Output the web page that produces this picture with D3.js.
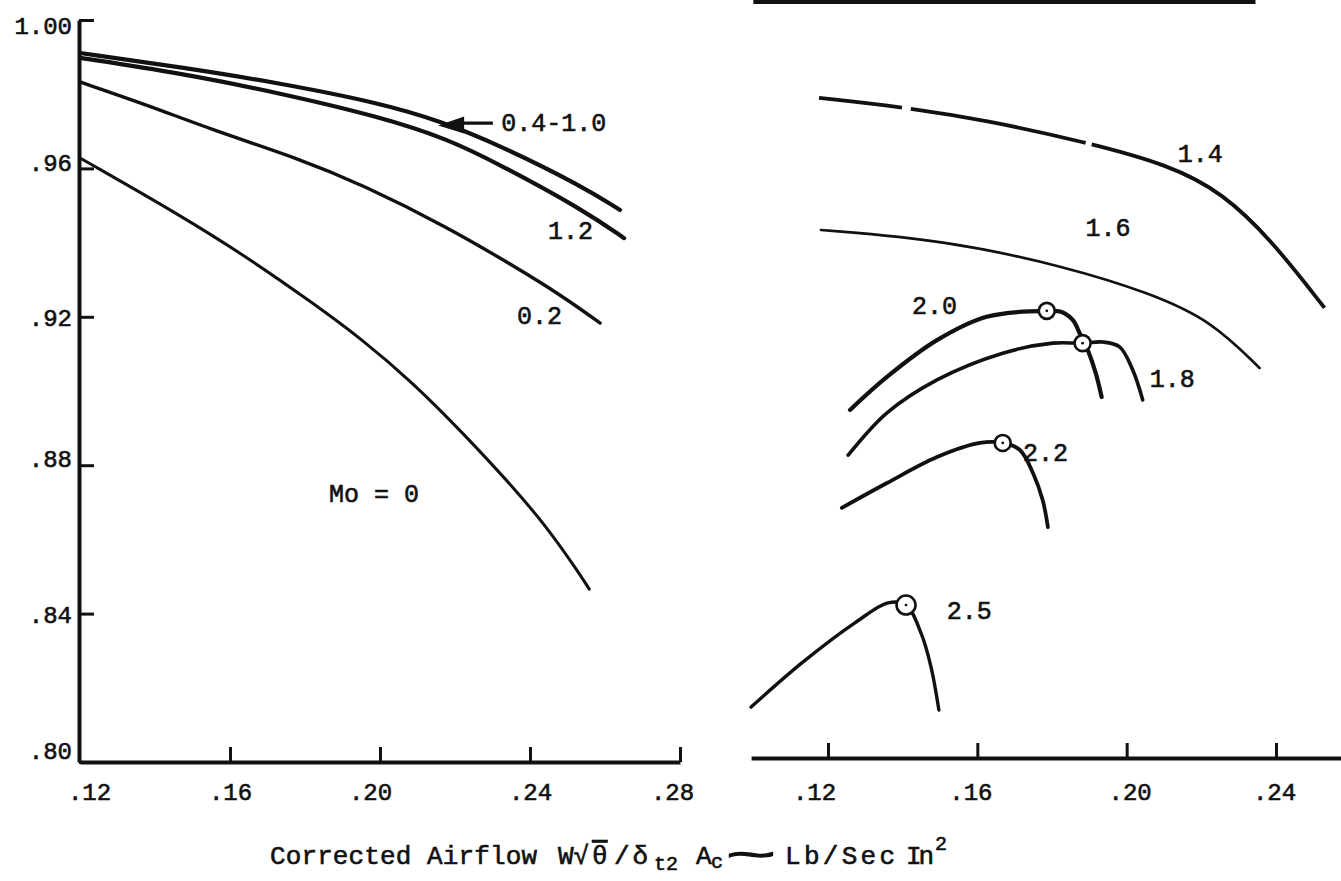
<!DOCTYPE html>
<html><head><meta charset="utf-8">
<script src="https://cdn.jsdelivr.net/npm/d3@7"></script>
<style>
html,body{margin:0;padding:0;background:#fff;}
svg{display:block;background:#fff;}
text{font-family:"Liberation Mono","DejaVu Sans Mono",monospace;fill:#111;stroke:#111;stroke-width:0.6px;}
</style></head><body>
<svg id="chart" width="1341" height="881"></svg>
<script>
// ---------- data ----------
const yTicks = [1.00, 0.96, 0.92, 0.88, 0.84, 0.80];
const yTickLabels = ["1.00", ".96", ".92", ".88", ".84", ".80"];
const xTicksLeft = [0.12, 0.16, 0.20, 0.24, 0.28];
const xTickLabelsLeft = [".12", ".16", ".20", ".24", ".28"];
const xTicksRight = [0.12, 0.16, 0.20, 0.24];
const xTickLabelsRight = [".12", ".16", ".20", ".24"];

// left panel curves: [corrected airflow, recovery]
const mach04to10 = [[0.12,0.9911],[0.1467,0.9873],[0.1733,0.9830],[0.2000,0.9776],[0.2160,0.9728],[0.2320,0.9662],[0.2539,0.9552],[0.2640,0.9488]];
const mach12 = [[0.12,0.9898],[0.1467,0.9857],[0.1733,0.9803],[0.2000,0.9739],[0.2179,0.9680],[0.2320,0.9610],[0.2539,0.9490],[0.2651,0.9412]];
const mach02 = [[0.12,0.9833],[0.1379,0.9771],[0.1555,0.9703],[0.1779,0.9628],[0.1955,0.9555],[0.2179,0.9442],[0.2355,0.9338],[0.2488,0.9255],[0.2587,0.9183]];
const mach0 = [[0.12,0.9628],[0.1467,0.9474],[0.1645,0.9361],[0.1821,0.9237],[0.1955,0.9137],[0.2088,0.9022],[0.2221,0.8887],[0.2355,0.8741],[0.2445,0.8633],[0.2525,0.8518],[0.2558,0.8466]];

// right panel curves
const mach14 = [[0.1176,0.9790],[0.1403,0.9765],[0.1623,0.9730],[0.1890,0.9671],[0.2115,0.9609],[0.2257,0.9534],[0.2388,0.9407],[0.2530,0.9224]];
const mach14Gaps = [[0.1398,0.1422],[0.1890,0.1906]];
const mach16 = [[0.1181,0.9434],[0.1513,0.9407],[0.1842,0.9334],[0.2062,0.9264],[0.2225,0.9191],[0.2356,0.9062]];
const mach20 = [[0.1259,0.8949],[0.1358,0.9038],[0.1492,0.9137],[0.1625,0.9200],[0.1786,0.9216],[0.1826,0.9213],[0.1856,0.9191],[0.1874,0.9156],[0.1896,0.9110],[0.1917,0.9049],[0.1933,0.8984]];
const mach18 = [[0.1254,0.8827],[0.1358,0.8941],[0.1492,0.9030],[0.1668,0.9102],[0.1802,0.9129],[0.1882,0.9129],[0.1936,0.9132],[0.1981,0.9119],[0.2016,0.9057],[0.2043,0.8976]];
const mach22 = [[0.1237,0.8685],[0.1358,0.8752],[0.1492,0.8822],[0.1607,0.8860],[0.1668,0.8860],[0.1714,0.8841],[0.1749,0.8779],[0.1775,0.8706],[0.1789,0.8633]];
const mach25 = [[0.0994,0.8148],[0.1130,0.8267],[0.1272,0.8375],[0.1361,0.8429],[0.1409,0.8423],[0.1449,0.8348],[0.1476,0.8256],[0.1497,0.8140]];

// peak (critical) points marked by circles
const peakPoints = [[0.1786,0.9216],[0.1882,0.9129],[0.1668,0.8860],[0.1409,0.8423]];

// ---------- layout ----------
const svg = d3.select("#chart");
const xL = d3.scaleLinear().domain([0.12, 0.28]).range([80, 680]);
const xR = d3.scaleLinear().domain([0.12, 0.24]).range([828, 1276]);
const y = d3.scaleLinear().domain([0.80, 1.00]).range([762, 20]);
const yRightAxis = 758;
const rightAxisExtent = [0.0994, 0.2573];
const topRuleExtent = [0.1000, 0.2345];

const ink = "#111";

// top rule (remnant of upper figure)
svg.append("line")
  .attr("x1", xR(topRuleExtent[0])).attr("x2", xR(topRuleExtent[1]))
  .attr("y1", 2).attr("y2", 2)
  .attr("stroke", ink).attr("stroke-width", 4);

// ---------- axes ----------
function styleAxis(g, domainW, tickW) {
  g.select(".domain").attr("stroke", ink).attr("stroke-width", domainW);
  g.selectAll(".tick line").attr("stroke", ink).attr("stroke-width", tickW);
  g.selectAll(".tick text").attr("fill", ink)
    .style("font-family", '"Liberation Mono", monospace').style("font-size", "24px");
}

// left y axis
const yAxisG = svg.append("g").attr("transform", `translate(${xL(0.12) - 1},0)`)
  .call(d3.axisLeft(y).tickValues(yTicks).tickSize(-15).tickSizeOuter(0).tickPadding(7)
    .tickFormat((d, i) => yTickLabels[i]));
styleAxis(yAxisG, 4, 3);
const yLabelDy = ["0.55em", "0.1em", "0.35em", "0.05em", "0.35em", "-0.15em"];
yAxisG.selectAll(".tick text").attr("dy", (d, i) => yLabelDy[i]);

// left x axis
const xAxisL = svg.append("g").attr("transform", `translate(0,${y(0.80)})`)
  .call(d3.axisBottom(xL).tickValues(xTicksLeft).tickSize(-15).tickSizeOuter(0).tickPadding(21)
    .tickFormat((d, i) => xTickLabelsLeft[i]));
styleAxis(xAxisL, 4, 3);
xAxisL.selectAll(".tick").filter(d => d === 0.12).select("line").remove();
const leftLabelDx = [9, 0, -10, 0, -8];
xAxisL.selectAll(".tick text").attr("dx", (d, i) => leftLabelDx[i]);

// right x axis (line spans beyond ticks)
const xRext = xR.copy().domain(rightAxisExtent).range(rightAxisExtent.map(v => xR(v)));
const xAxisR = svg.append("g").attr("transform", `translate(0,${yRightAxis})`)
  .call(d3.axisBottom(xRext).tickValues(xTicksRight).tickSize(-15).tickSizeOuter(0).tickPadding(25)
    .tickFormat((d, i) => xTickLabelsRight[i]));
styleAxis(xAxisR, 4, 3);
const rightLabelDx = [-14, -7, 3, -2];
xAxisR.selectAll(".tick text").attr("dx", (d, i) => rightLabelDx[i]);

// ---------- curves ----------
const smoothL = d3.line().x(d => xL(d[0])).y(d => y(d[1])).curve(d3.curveBasis);
const smoothR = d3.line().x(d => xR(d[0])).y(d => y(d[1])).curve(d3.curveBasis);
const lineR = d3.line().x(d => xR(d[0])).y(d => y(d[1])).curve(d3.curveCatmullRom.alpha(0.5));

function drawCurve(line, data, w) {
  return svg.append("path").datum(data).attr("d", line)
    .attr("fill", "none").attr("stroke", ink).attr("stroke-width", w)
    .attr("stroke-linecap", "round").attr("stroke-linejoin", "round");
}
drawCurve(smoothL, mach04to10, 4.2);
drawCurve(smoothL, mach12, 4.2);
drawCurve(smoothL, mach02, 3.4);
drawCurve(smoothL, mach0, 3.0);

const p14 = drawCurve(smoothR, mach14, 3.8).attr("stroke-linecap", "butt");
// break the 1.4 line at its gaps
(function () {
  const node = p14.node();
  const total = node.getTotalLength();
  function lenAtX(px) {
    let lo = 0, hi = total;
    for (let k = 0; k < 40; k++) {
      const mid = (lo + hi) / 2;
      if (node.getPointAtLength(mid).x < px) lo = mid; else hi = mid;
    }
    return (lo + hi) / 2;
  }
  const marks = [];
  mach14Gaps.forEach(g => { marks.push(lenAtX(xR(g[0]))); marks.push(lenAtX(xR(g[1]))); });
  const dash = [];
  let prev = 0;
  marks.forEach(m => { dash.push(m - prev); prev = m; });
  dash.push(total - prev + 10); dash.push(0);
  node.setAttribute("stroke-dasharray", dash.join(","));
})();

drawCurve(smoothR, mach16, 2.6);
drawCurve(lineR, mach20, 4.2);
drawCurve(lineR, mach18, 3.6);
drawCurve(lineR, mach22, 3.8);
drawCurve(lineR, mach25, 3.4);

// peak circles
const radii = [8, 8, 8, 9.5];
peakPoints.forEach((p, i) => {
  svg.append("circle").attr("cx", xR(p[0])).attr("cy", y(p[1])).attr("r", radii[i])
    .attr("fill", "#fff").attr("stroke", ink).attr("stroke-width", 2.6);
  svg.append("circle").attr("cx", xR(p[0])).attr("cy", y(p[1])).attr("r", 1.4).attr("fill", ink);
});

// ---------- arrow for 0.4-1.0 ----------
const arrowTail = [0.2301, 0.9722];
const arrowTip = [0.2155, 0.9718];
{
  const tx = xL(arrowTip[0]), ty = y(arrowTip[1]);
  const sx = xL(arrowTail[0]), sy = y(arrowTail[1]);
  svg.append("line").attr("x1", sx).attr("x2", tx + 20).attr("y1", sy).attr("y2", sy)
    .attr("stroke", ink).attr("stroke-width", 3.2);
  svg.append("path")
    .attr("d", `M${tx},${ty + 1} L${tx + 26},${ty - 8} L${tx + 26},${ty + 9} Z`)
    .attr("fill", ink);
}

// ---------- curve labels ----------
const labelsLeft = [
  ["0.4-1.0", 0.2323, 0.9725],
  ["1.2", 0.2448, 0.9434],
  ["0.2", 0.2365, 0.9205],
  ["Mo = 0", 0.1864, 0.8725]
];
const labelsRight = [
  ["1.4", 0.2137, 0.9642],
  ["1.6", 0.1890, 0.9442],
  ["2.0", 0.1425, 0.9232],
  ["1.8", 0.2062, 0.9035],
  ["2.2", 0.1722, 0.8836],
  ["2.5", 0.1518, 0.8410]
];
function drawLabels(list, xs) {
  svg.selectAll(null).data(list).enter().append("text")
    .attr("x", d => xs(d[1])).attr("y", d => y(d[2]))
    .attr("dy", "0.35em")
    .style("font-size", "25px")
    .text(d => d[0]);
}
drawLabels(labelsLeft, xL);
drawLabels(labelsRight, xR);

// ---------- axis title ----------
const title = svg.append("text").attr("y", 864).style("font-size", "26px");
title.append("tspan").attr("x", 270).attr("textLength", 267).text("Corrected Airflow");
title.append("tspan").attr("x", 558).text("W√");
title.append("tspan").attr("x", 592).style("text-decoration", "overline").text("θ");
title.append("tspan").attr("x", 614).style("letter-spacing", "3px").text("/δ");
title.append("tspan").attr("x", 654).attr("dy", 6).style("font-size", "20px").text("t2");
title.append("tspan").attr("x", 696).attr("dy", -6).text("A");
title.append("tspan").attr("x", 711).attr("dy", 4).style("font-size", "20px").text("c");
title.append("tspan").attr("x", 726).attr("dy", -1).style("font-size", "36px")
  .style("stroke-width", "1.4px").attr("textLength", 50)
  .attr("lengthAdjust", "spacingAndGlyphs").text("~");
title.append("tspan").attr("x", 785).attr("dy", -3).attr("textLength", 110).text("Lb/Sec");
title.append("tspan").attr("x", 906).attr("textLength", 28).text("In");
title.append("tspan").attr("x", 935).attr("dy", -14).style("font-size", "20px").text("2");
</script>
</body></html>
